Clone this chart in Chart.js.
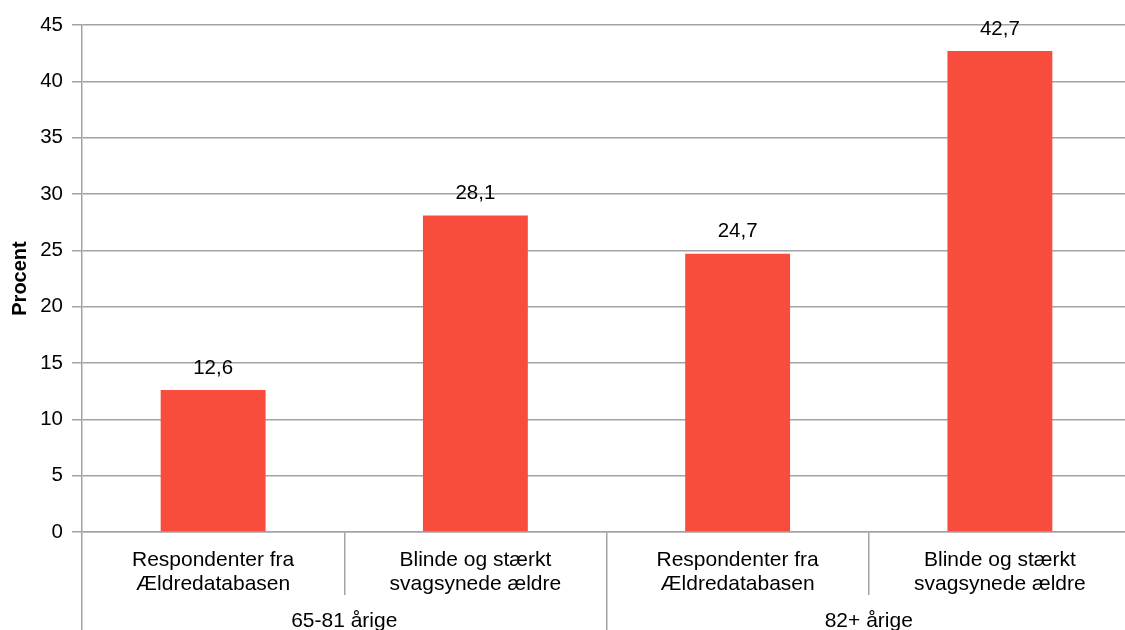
<!DOCTYPE html>
<html>
<head>
<meta charset="utf-8">
<script src="https://cdn.jsdelivr.net/npm/chart.js@4/dist/chart.umd.min.js"></script>
<style>
  html, body { margin: 0; padding: 0; background: #fff; overflow: hidden; }
  #wrap { width: 1131px; height: 630px; }
</style>
</head>
<body>
<div id="wrap"><canvas id="chart"></canvas></div>
<script>
const categories = [
  ["Respondenter fra", "Ældredatabasen"],
  ["Blinde og stærkt", "svagsynede ældre"],
  ["Respondenter fra", "Ældredatabasen"],
  ["Blinde og stærkt", "svagsynede ældre"]
];
const groups = ["65-81 årige", "82+ årige"];
const values = [12.6, 28.1, 24.7, 42.7];

const FONT = "'Liberation Sans', Arial, sans-serif";
const GRID = '#a3a3a3';

// value labels above each bar, Danish decimal comma
const barLabels = {
  id: 'barLabels',
  afterDatasetsDraw(chart) {
    const ctx = chart.ctx;
    const meta = chart.getDatasetMeta(0);
    ctx.save();
    ctx.font = '20.5px ' + FONT;
    ctx.fillStyle = '#000';
    ctx.textAlign = 'center';
    ctx.textBaseline = 'middle';
    meta.data.forEach((bar, i) => {
      ctx.fillText(values[i].toFixed(1).replace('.', ','), bar.x, bar.y - 22);
    });
    ctx.restore();
  }
};

new Chart(document.getElementById('chart'), {
  type: 'bar',
  data: {
    labels: categories,
    datasets: [{
      data: values,
      backgroundColor: '#F84C3D',
      barPercentage: 0.4,
      categoryPercentage: 1
    }]
  },
  options: {
    responsive: true,
    maintainAspectRatio: false,
    animation: false,
    layout: { padding: { top: 25, left: 0, right: 0, bottom: 0 } },
    plugins: { legend: { display: false }, tooltip: { enabled: false } },
    scales: {
      y: {
        min: 0,
        max: 45,
        ticks: { stepSize: 5, color: '#000', font: { family: FONT, size: 20.5 }, padding: 9 },
        grid: { color: GRID, lineWidth: 1.5, tickLength: 10 },
        border: { color: GRID, width: 1.5 },
        title: {
          display: true,
          text: 'Procent',
          color: '#000',
          font: { family: FONT, size: 20, weight: 'bold' },
          padding: { top: 8, bottom: 0 }
        },
        afterFit(scale) { scale.width = 82; }
      },
      x: {
        position: 'bottom',
        offset: true,
        ticks: {
          color: '#000',
          font: { family: FONT, size: 21, lineHeight: 1.15 },
          padding: -47,
          maxRotation: 0,
          autoSkip: false
        },
        grid: { offset: true, drawOnChartArea: false, color: GRID, lineWidth: 1.5, tickLength: 63 },
        border: { color: GRID, width: 1.5 },
        afterFit(scale) { scale.height = 63; }
      },
      groups: {
        type: 'category',
        position: 'bottom',
        labels: groups,
        offset: true,
        ticks: {
          color: '#000',
          font: { family: FONT, size: 21 },
          padding: -21,
          maxRotation: 0,
          autoSkip: false
        },
        grid: { offset: true, drawOnChartArea: false, color: GRID, lineWidth: 1.5, tickLength: 35 },
        border: { display: false },
        afterFit(scale) { scale.height = 35; }
      }
    }
  },
  plugins: [barLabels]
});
</script>
</body>
</html>
